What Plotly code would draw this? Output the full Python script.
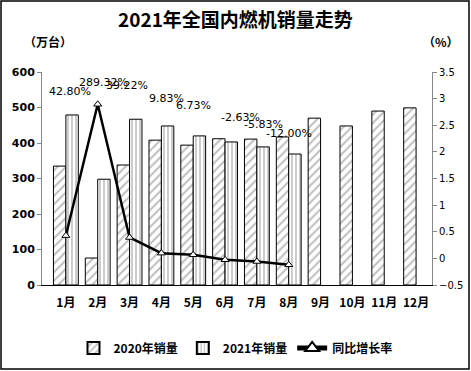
import plotly.graph_objects as go

months = ["1月", "2月", "3月", "4月", "5月", "6月", "7月", "8月", "9月", "10月", "11月", "12月"]
sales_2020 = [335, 76, 338, 408, 394, 412, 411, 417, 470, 448, 490, 499]
sales_2021 = [479, 298, 467, 448, 420, 403, 389, 369]
growth = [0.4280, 2.8932, 0.3922, 0.0983, 0.0673, -0.0263, -0.0583, -0.1200]

# label placement (y on right axis, x pixel shift)
label_y = [3.14, 3.31, 3.24, 3.01, 2.88, 2.65, 2.52, 2.35]
label_dx = [4, 6, -3, 5, 0, 15, 7, 0]

W, H = 471, 371
ml, mr, mt, mb = 42, 39, 72, 86
pw, ph = W - ml - mr, H - mt - mb


def px(x):
    return (x - ml) / pw


def py(y):
    return (H - mb - y) / ph


fig = go.Figure()
fig.add_trace(go.Bar(
    x=months, y=sales_2020, name="<b>2020年销量</b>",
    marker=dict(color="white", line=dict(color="black", width=1),
                pattern=dict(shape="/", fgcolor="#808080", bgcolor="white", size=6, solidity=0.35)),
))
fig.add_trace(go.Bar(
    x=months[:len(sales_2021)], y=sales_2021, name="<b>2021年销量</b>",
    marker=dict(color="white", line=dict(color="black", width=1),
                pattern=dict(shape="|", fgcolor="black", bgcolor="white", size=4, solidity=0.2)),
))
fig.add_trace(go.Scatter(
    x=months[:len(growth)], y=growth, name="<b>同比增长率</b>", yaxis="y2",
    mode="lines+markers",
    line=dict(color="black", width=2.5),
    marker=dict(symbol="triangle-up", size=7, color="white", line=dict(color="black", width=1)),
))

annotations = []
for m, g, ly, dx in zip(months, growth, label_y, label_dx):
    annotations.append(dict(x=m, y=ly, xref="x", yref="y2", text=f"{g*100:.2f}%",
                            showarrow=False, xshift=dx, xanchor="center",
                            font=dict(family="DejaVu Sans", size=11, color="black")))
annotations += [
    dict(x=px(W / 2), y=py(19), xref="paper", yref="paper", text="<b>2021年全国内燃机销量走势</b>",
         showarrow=False, xanchor="center", yanchor="middle",
         font=dict(family="Noto Sans CJK SC", size=19, color="black")),
    dict(x=px(48), y=py(42), xref="paper", yref="paper", text="<b>（万台）</b>", showarrow=False,
         xanchor="center", yanchor="middle",
         font=dict(family="Noto Sans CJK SC", size=12, color="black")),
    dict(x=px(441), y=py(42), xref="paper", yref="paper", text="<b>（%）</b>", showarrow=False,
         xanchor="center", yanchor="middle",
         font=dict(family="Noto Sans CJK SC", size=12, color="black")),
]

fig.update_layout(
    width=W, height=H,
    margin=dict(l=ml, r=mr, t=mt, b=mb, autoexpand=False),
    paper_bgcolor="white", plot_bgcolor="white",
    barmode="group", bargap=0.22, bargroupgap=0.0,
    font=dict(family="DejaVu Sans", color="black"),
    xaxis=dict(showgrid=False, showline=True, linecolor="black", linewidth=1,
               ticks="outside", ticklen=7, tickcolor="rgba(0,0,0,0)",
               tickfont=dict(family="Noto Sans CJK SC", size=12, color="black"),
               tickprefix="<b>", ticksuffix="</b>"),
    yaxis=dict(range=[0, 600], dtick=100, showgrid=False, showline=True, linecolor="#888888",
               ticks="outside", ticklen=4, tickcolor="#888888",
               tickfont=dict(family="DejaVu Sans", size=11, color="black"),
               tickprefix="<b>", ticksuffix="</b>", zeroline=False),
    yaxis2=dict(range=[-0.5, 3.5], dtick=0.5, overlaying="y", side="right", showgrid=False,
                showline=True, linecolor="#888888", ticks="outside", ticklen=4, tickcolor="#888888",
                tickfont=dict(family="DejaVu Sans", size=10, color="black"), zeroline=False),
    legend=dict(orientation="h", x=px(W / 2), xanchor="center", y=py(348), yanchor="middle",
                font=dict(family="Noto Sans CJK SC", size=12, color="black"),
                traceorder="normal", itemsizing="constant"),
    annotations=annotations,
    shapes=[dict(type="rect", xref="paper", yref="paper",
                 x0=px(1), x1=px(W - 2), y0=py(1), y1=py(H - 2),
                 line=dict(color="black", width=1.5))],
)
fig.write_html("out.html", config={"displayModeBar": False},
               post_script="document.body.style.margin='0';document.body.style.overflow='hidden';")
